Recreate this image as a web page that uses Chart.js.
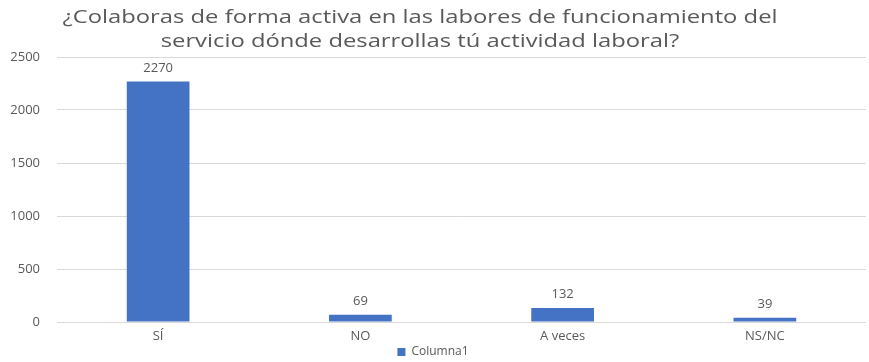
<!DOCTYPE html>
<html>
<head>
<meta charset="utf-8">
<script src="https://cdn.jsdelivr.net/npm/chart.js@4"></script>
<style>
  html, body { margin: 0; padding: 0; background: #fff; }
  #wrap { width: 869px; height: 362px; }
</style>
</head>
<body>
<div id="wrap"><canvas id="chart"></canvas></div>
<script>
const titleLines = [
  '¿Colaboras de forma activa en las labores de funcionamiento del',
  'servicio dónde desarrollas tú actividad laboral?'
];
const categories = ['SÍ', 'NO', 'A veces', 'NS/NC'];
const values = [2270, 69, 132, 39];
const seriesName = 'Columna1';

const FONT = '"Open Sans", sans-serif';
const GREY = '#595959';
const BLUE = '#4472C4';

// two-line title, stretched a little sideways to fill the width
const titlePlugin = {
  id: 'twoLineTitle',
  afterDraw(chart) {
    const ctx = chart.ctx;
    ctx.save();
    ctx.font = '19px ' + FONT;
    ctx.fillStyle = GREY;
    ctx.textAlign = 'center';
    ctx.textBaseline = 'middle';
    const sx = 715 / ctx.measureText(titleLines[0]).width;
    ctx.translate(420, 0);
    ctx.scale(sx, 1);
    ctx.fillText(titleLines[0], 0, 18);
    ctx.fillText(titleLines[1], 0, 42);
    ctx.restore();
  }
};

// value labels above each bar
const valueLabels = {
  id: 'valueLabels',
  afterDatasetsDraw(chart) {
    const ctx = chart.ctx;
    const meta = chart.getDatasetMeta(0);
    ctx.save();
    ctx.font = '13px ' + FONT;
    ctx.fillStyle = GREY;
    ctx.textAlign = 'center';
    ctx.textBaseline = 'bottom';
    meta.data.forEach((bar, i) => {
      ctx.fillText(chart.data.datasets[0].data[i], bar.x, bar.y - 7);
    });
    ctx.restore();
  }
};

new Chart(document.getElementById('chart'), {
  type: 'bar',
  data: {
    labels: categories,
    datasets: [{
      label: seriesName,
      data: values,
      backgroundColor: BLUE,
      barPercentage: 0.31,
      categoryPercentage: 1
    }]
  },
  options: {
    responsive: true,
    maintainAspectRatio: false,
    animation: false,
    layout: { padding: { top: 57, right: 3, left: 0, bottom: -6 } },
    plugins: {
      title: { display: false },
      tooltip: { enabled: false },
      legend: {
        position: 'bottom',
        labels: {
          boxWidth: 8,
          boxHeight: 8,
          padding: 0,
          color: GREY,
          font: { family: FONT, size: 12 }
        }
      }
    },
    scales: {
      x: {
        grid: { display: false, drawTicks: false },
        border: { display: false },
        ticks: { color: GREY, font: { family: FONT, size: 13 }, padding: 6 },
        afterFit(scale) { scale.height = 24; }
      },
      y: {
        min: 0,
        max: 2500,
        ticks: {
          stepSize: 500,
          color: GREY,
          font: { family: FONT, size: 13 },
          padding: 17,
          callback: (v) => String(v)
        },
        grid: { color: '#d9d9d9', drawTicks: false },
        border: { display: false },
        afterFit(scale) { scale.width = 57; }
      }
    }
  },
  plugins: [titlePlugin, valueLabels]
});
</script>
</body>
</html>
